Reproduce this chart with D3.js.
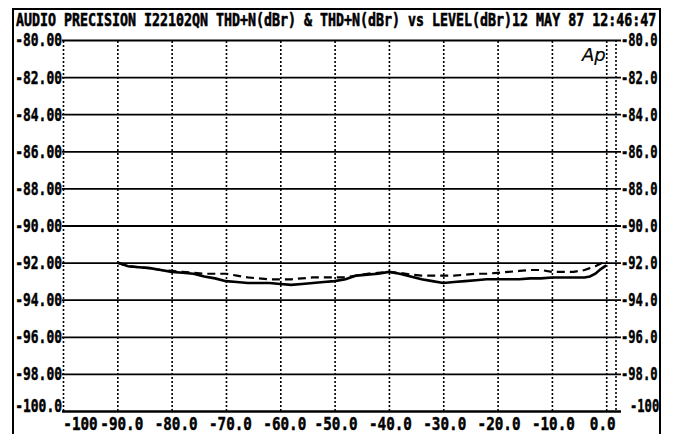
<!DOCTYPE html>
<html>
<head>
<meta charset="utf-8">
<script src="https://cdn.jsdelivr.net/npm/d3@7"></script>
<style>
  body { margin: 0; background: #fff; }
  svg text { font-family: "DejaVu Sans Mono", "Liberation Mono", monospace; font-weight: bold; fill: #000; stroke: #000; stroke-width: 0.45px; }
</style>
</head>
<body>
<div id="chart"></div>
<script>
// chart data
let titleText = "AUDIO PRECISION I22102QN THD+N(dBr) & THD+N(dBr) vs LEVEL(dBr)12 MAY 87 12:46:47";

let levels = [-90, -88, -86, -84, -82, -80, -78, -76, -74, -72, -70, -68, -66, -64, -62, -60,
  -58, -56, -54, -52, -50, -48, -46, -44, -42, -40, -38, -36, -34, -32, -30, -28, -26, -24,
  -22, -20, -18, -16, -14, -12, -10, -8, -6, -4, -3, -2, -1, 0];

let thdSolid = [-92.0, -92.2, -92.25, -92.3, -92.4, -92.5, -92.55, -92.6, -92.75, -92.85, -93.0,
  -93.05, -93.1, -93.1, -93.1, -93.15, -93.2, -93.15, -93.1, -93.05, -93.0, -92.9, -92.7, -92.65,
  -92.6, -92.5, -92.6, -92.75, -92.9, -93.0, -93.1, -93.05, -93.0, -92.95, -92.9, -92.9, -92.9,
  -92.9, -92.85, -92.85, -92.8, -92.8, -92.8, -92.8, -92.75, -92.6, -92.35, -92.15];

let thdDashed = [-92.0, -92.2, -92.25, -92.3, -92.4, -92.45, -92.5, -92.55, -92.6, -92.6, -92.6,
  -92.7, -92.8, -92.85, -92.9, -92.9, -92.9, -92.85, -92.8, -92.8, -92.8, -92.8, -92.7, -92.6,
  -92.55, -92.5, -92.55, -92.65, -92.7, -92.7, -92.7, -92.7, -92.65, -92.6, -92.6, -92.55, -92.5,
  -92.45, -92.4, -92.4, -92.5, -92.5, -92.5, -92.4, -92.3, -92.2, -92.05, -91.95];

let yTicks = [-80, -82, -84, -86, -88, -90, -92, -94, -96, -98, -100];
let xTicks = [-100, -90, -80, -70, -60, -50, -40, -30, -20, -10, 0];

// page size
let svgWidth = 673;
let svgHeight = 434;
let charW = 7.8;

let svg = d3.select("#chart")
  .append("svg")
  .attr("width", svgWidth)
  .attr("height", svgHeight);

let g = svg.append("g");

let x = d3.scaleLinear().domain([-100, 1.8]).range([63, 616]);
let y = d3.scaleLinear().domain([-100, -80]).range([411, 40]);

// title, stretched vertically like the plotter font
g.append("text")
  .attr("transform", "translate(16,26) scale(1,1.28)")
  .attr("font-size", 13.3)
  .text(titleText);

// left axis with full-width horizontal grid
let leftAxis = d3.axisLeft(y)
  .tickValues(yTicks)
  .tickSize(-(621 - 62))
  .tickPadding(0)
  .tickFormat(d => d === -100 ? "-100.0" : d.toFixed(2));

let leftG = g.append("g")
  .attr("transform", "translate(62,0)")
  .call(leftAxis);

leftG.select(".domain").remove();
leftG.selectAll("line")
  .attr("stroke", "#000")
  .attr("stroke-width", d => d === -100 ? 2.6 : (d === -80 ? 2.2 : 1.8));
leftG.selectAll("text")
  .attr("font-size", 17)
  .attr("dy", d => d === -100 ? "0.05em" : "0.35em")
  .attr("textLength", function() { return this.textContent.length * charW; })
  .attr("lengthAdjust", "spacingAndGlyphs");

// right side labels
let rightAxis = d3.axisRight(y)
  .tickValues(yTicks)
  .tickSize(0)
  .tickPadding(0)
  .tickFormat(d => d === -100 ? "-100" : d.toFixed(1));

let rightG = g.append("g")
  .attr("transform", "translate(621,0)")
  .call(rightAxis);

rightG.select(".domain").remove();
rightG.selectAll("text")
  .attr("font-size", 17)
  .attr("x", d => d === -100 ? 9 : 0)
  .attr("dy", d => d === -100 ? "0.05em" : "0.35em")
  .attr("textLength", function() { return this.textContent.length * 7.3; })
  .attr("lengthAdjust", "spacingAndGlyphs");

// bottom axis, dotted vertical grid
let bottomAxis = d3.axisBottom(x)
  .tickValues(xTicks)
  .tickSize(-(411 - 40))
  .tickPadding(0)
  .tickFormat(d => d === -100 ? "-100" : d.toFixed(1));

let bottomG = g.append("g")
  .attr("transform", "translate(0,411)")
  .call(bottomAxis);

bottomG.select(".domain").remove();
bottomG.selectAll("line")
  .attr("stroke", "#000")
  .attr("stroke-width", 1.6)
  .attr("stroke-dasharray", "2,2");
bottomG.selectAll("text")
  .attr("font-size", 17)
  .attr("y", 19)
  .attr("dy", 0)
  .attr("text-anchor", "middle")
  .attr("x", d => d === -100 ? 17 : (d === 0 ? -4 : (d < -50 ? 4 : 1)))
  .attr("textLength", function() { return this.textContent.length * 8.6; })
  .attr("lengthAdjust", "spacingAndGlyphs");

// dotted right edge of the plot
g.append("line")
  .attr("x1", x(1.8)).attr("x2", x(1.8))
  .attr("y1", y(-80)).attr("y2", y(-100))
  .attr("stroke", "#000")
  .attr("stroke-width", 1.6)
  .attr("stroke-dasharray", "2,2");

// data lines
let line = d3.line()
  .x((d, i) => x(levels[i]))
  .y(d => y(d));

g.append("path")
  .datum(thdDashed)
  .attr("d", line)
  .attr("fill", "none")
  .attr("stroke", "#000")
  .attr("stroke-width", 2.2)
  .attr("stroke-dasharray", "8,5");

g.append("path")
  .datum(thdSolid)
  .attr("d", line)
  .attr("fill", "none")
  .attr("stroke", "#000")
  .attr("stroke-width", 2.6);

// Ap logo
g.append("text")
  .attr("x", 582)
  .attr("y", 61)
  .attr("font-size", 18)
  .attr("font-style", "italic")
  .style("font-family", "'DejaVu Sans', sans-serif")
  .style("font-weight", "normal")
  .style("stroke-width", "0.2px")
  .text("Ap");

// outer frame
svg.append("path")
  .attr("d", "M13,434 V9 H660 V434")
  .attr("fill", "none")
  .attr("stroke", "#000")
  .attr("stroke-width", 2);
</script>
</body>
</html>
